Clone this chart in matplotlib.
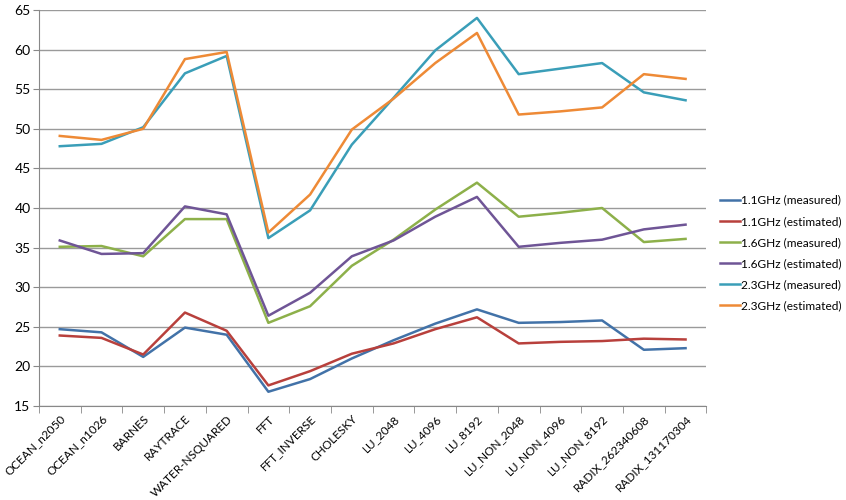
import numpy as np
import matplotlib
matplotlib.use('Agg')
import matplotlib.pyplot as plt
from matplotlib.ticker import MultipleLocator, FixedLocator

categories = ['OCEAN_n2050', 'OCEAN_n1026', 'BARNES', 'RAYTRACE', 'WATER-NSQUARED',
              'FFT', 'FFT_INVERSE', 'CHOLESKY', 'LU_2048', 'LU_4096', 'LU_8192',
              'LU_NON_2048', 'LU_NON_4096', 'LU_NON_8192', 'RADIX_262340608',
              'RADIX_131170304']

ghz11_measured = [24.7, 24.3, 21.2, 24.9, 24.0, 16.8, 18.4, 21.0, 23.3, 25.4, 27.2,
                  25.5, 25.6, 25.8, 22.1, 22.3]
ghz11_estimated = [23.9, 23.6, 21.5, 26.8, 24.5, 17.6, 19.4, 21.6, 22.9, 24.7, 26.2,
                   22.9, 23.1, 23.2, 23.5, 23.4]
ghz16_measured = [35.1, 35.2, 33.9, 38.6, 38.6, 25.5, 27.6, 32.7, 36.0, 39.8, 43.2,
                  38.9, 39.4, 40.0, 35.7, 36.1]
ghz16_estimated = [35.9, 34.2, 34.3, 40.2, 39.2, 26.4, 29.3, 33.9, 35.9, 38.9, 41.4,
                   35.1, 35.6, 36.0, 37.3, 37.9]
ghz23_measured = [47.8, 48.1, 50.2, 57.0, 59.2, 36.2, 39.7, 48.0, 53.9, 59.9, 64.0,
                  56.9, 57.6, 58.3, 54.6, 53.6]
ghz23_estimated = [49.1, 48.6, 50.0, 58.8, 59.7, 36.9, 41.7, 49.9, 53.8, 58.3, 62.1,
                   51.8, 52.2, 52.7, 56.9, 56.3]

series = [
    ('1.1GHz (measured)', ghz11_measured, '#4272A8'),
    ('1.1GHz (estimated)', ghz11_estimated, '#B8403C'),
    ('1.6GHz (measured)', ghz16_measured, '#8DB04A'),
    ('1.6GHz (estimated)', ghz16_estimated, '#6F5596'),
    ('2.3GHz (measured)', ghz23_measured, '#3A9EB8'),
    ('2.3GHz (estimated)', ghz23_estimated, '#EE8A36'),
]

plt.rcParams['font.family'] = ['Lato', 'DejaVu Sans']

fig = plt.figure(figsize=(8.46, 5.0), dpi=100)
ax = fig.add_axes([0.046, 0.188, 0.789, 0.792])

x = np.arange(len(categories))
for label, vals, color in series:
    ax.plot(x, vals, color=color, lw=1.8, label=label)

ax.set_xlim(-0.5, len(categories) - 0.5)
ax.set_ylim(15, 65)
ax.yaxis.set_major_locator(MultipleLocator(5))
ax.yaxis.grid(True, color='#9a9a9a', lw=1.0)
ax.set_axisbelow(True)

# category labels at centres, tick marks at the boundaries (Excel style)
ax.set_xticks(x)
ax.set_xticklabels(categories, rotation=45, ha='right', rotation_mode='anchor',
                   fontsize=8.5)
ax.tick_params(axis='x', which='major', length=0, pad=5)
ax.xaxis.set_minor_locator(FixedLocator(np.arange(-0.5, len(categories), 1.0)))
ax.tick_params(axis='x', which='minor', length=5, color='#888888', direction='out')
ax.tick_params(axis='y', length=4, color='#888888', labelsize=10, pad=2)

for side in ['top', 'right']:
    ax.spines[side].set_visible(False)
ax.spines['left'].set_color('#888888')
ax.spines['bottom'].set_color('#888888')

leg = ax.legend(loc='center left', bbox_to_anchor=(1.005, 0.386), frameon=False,
                fontsize=8.6, handlelength=1.6, handletextpad=0.1,
                labelspacing=0.85)

fig.savefig('out.png', dpi=100)
